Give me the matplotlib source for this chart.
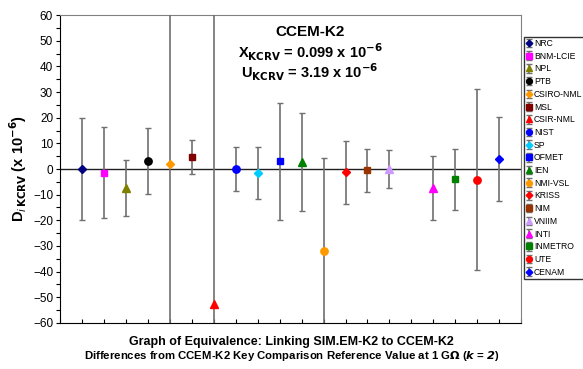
import numpy as np
import matplotlib
matplotlib.use("Agg")
import matplotlib.pyplot as plt
from matplotlib.ticker import MultipleLocator

plt.rcParams['font.family'] = ['Liberation Sans', 'DejaVu Sans']

# data (x 10^-6)
labs = ['NRC', 'BNM-LCIE', 'NPL', 'PTB', 'CSIRO-NML', 'MSL', 'CSIR-NML', 'NIST', 'SP',
        'OFMET', 'IEN', 'NMI-VSL', 'KRISS', 'NIM', 'VNIIM', 'INTI', 'INMETRO', 'UTE', 'CENAM']
pos = [1, 2, 3, 4, 5, 6, 7, 8, 9, 10, 11, 12, 13, 14, 15, 17, 18, 19, 20]
D = [0.0, -1.4, -7.3, 3.1, 2.0, 4.7, -52.7, 0.0, -1.5, 3.0, 2.7, -32.1, -1.3, -0.5, 0.0, -7.4, -4.0, -4.1, 3.9]
U = [19.8, 17.9, 11.0, 13.0, 100.0, 6.5, 120.0, 8.7, 10.2, 22.7, 19.2, 36.2, 12.3, 8.3, 7.4, 12.6, 11.9, 35.4, 16.2]
mk = ['D', 's', '^', 'o', 'D', 's', '^', 'o', 'D', 's', '^', 'o', 'D', 's', '^', '^', 's', 'o', 'D']
cols = ['#000080', '#FF00FF', '#808000', '#000000', '#FF9900', '#800000', '#FF0000', '#0000FF', '#00CCFF',
        '#0000FF', '#008000', '#FF9900', '#FF0000', '#993300', '#CC99FF', '#FF00FF', '#008000', '#FF0000', '#0000FF']
sizes = {'D': 4.2, 's': 5.0, '^': 5.5, 'o': 5.3}

fig = plt.figure(figsize=(5.83, 3.69), dpi=100)
ax = fig.add_axes([0.103, 0.125, 0.791, 0.834])

ax.axhline(0, color='#202020', lw=1.0, zorder=1)
for i in range(len(labs)):
    eb = ax.errorbar(pos[i], D[i], yerr=U[i], fmt=mk[i], color=cols[i], ms=sizes[mk[i]],
                     ecolor='#707070', elinewidth=1.2, capsize=2.2, capthick=1.0, label=labs[i], zorder=3)
    for cl in eb[1]:
        cl.set_color('black')

ax.set_xlim(0, 21)
ax.set_ylim(-60, 60)
ax.xaxis.set_major_locator(MultipleLocator(1))
ax.set_xticklabels([])
ax.yaxis.set_major_locator(MultipleLocator(10))
ax.yaxis.set_minor_locator(MultipleLocator(5))
ax.tick_params(axis='x', direction='in', length=3, width=0.8)
ax.tick_params(axis='y', which='both', direction='out', length=3, width=0.8, labelsize=8.5, pad=2)
for s in ['top', 'right']:
    ax.spines[s].set_color('#808080')
for s in ['left', 'bottom']:
    ax.spines[s].set_color('black')

ax.set_ylabel(r'D$_{\mathit{i}\,\mathbf{KCRV}}$ (x 10$^{\mathbf{-6}}$)', fontsize=10.5, fontweight='bold', labelpad=3)

ax.text(0.542, 0.945, 'CCEM-K2', transform=ax.transAxes, ha='center', va='center', fontsize=11, fontweight='bold')
ax.text(0.542, 0.88, r'X$_{\mathbf{KCRV}}$ = 0.099 x 10$^{\mathbf{-6}}$', transform=ax.transAxes,
        ha='center', va='center', fontsize=10.5, fontweight='bold')
ax.text(0.542, 0.815, r'U$_{\mathbf{KCRV}}$ = 3.19 x 10$^{\mathbf{-6}}$', transform=ax.transAxes,
        ha='center', va='center', fontsize=10.5, fontweight='bold')

fig.text(0.5, 0.074, 'Graph of Equivalence: Linking SIM.EM-K2 to CCEM-K2', ha='center', va='center',
         fontsize=9, fontweight='bold')
fig.text(0.5, 0.036, r'Differences from CCEM-K2 Key Comparison Reference Value at 1 G$\mathbf{\Omega}$ ($\mathbfit{k}$ = $\mathbfit{2}$)',
         ha='center', va='center', fontsize=8.2, fontweight='bold')

leg = fig.legend(loc='upper left', bbox_to_anchor=(0.899, 0.9), fontsize=6.2, frameon=True,
                 fancybox=False, edgecolor='black', handlelength=0.7, handletextpad=0.2,
                 labelspacing=0.43, borderpad=0.25, markerscale=0.8, borderaxespad=0)
leg.get_frame().set_linewidth(1.0)
for h in leg.legend_handles:
    try:
        h[1][0].set_visible(False)
    except Exception:
        pass
for line in leg.get_lines():
    line.set_linestyle('none')

fig.savefig('out.png', dpi=100)
